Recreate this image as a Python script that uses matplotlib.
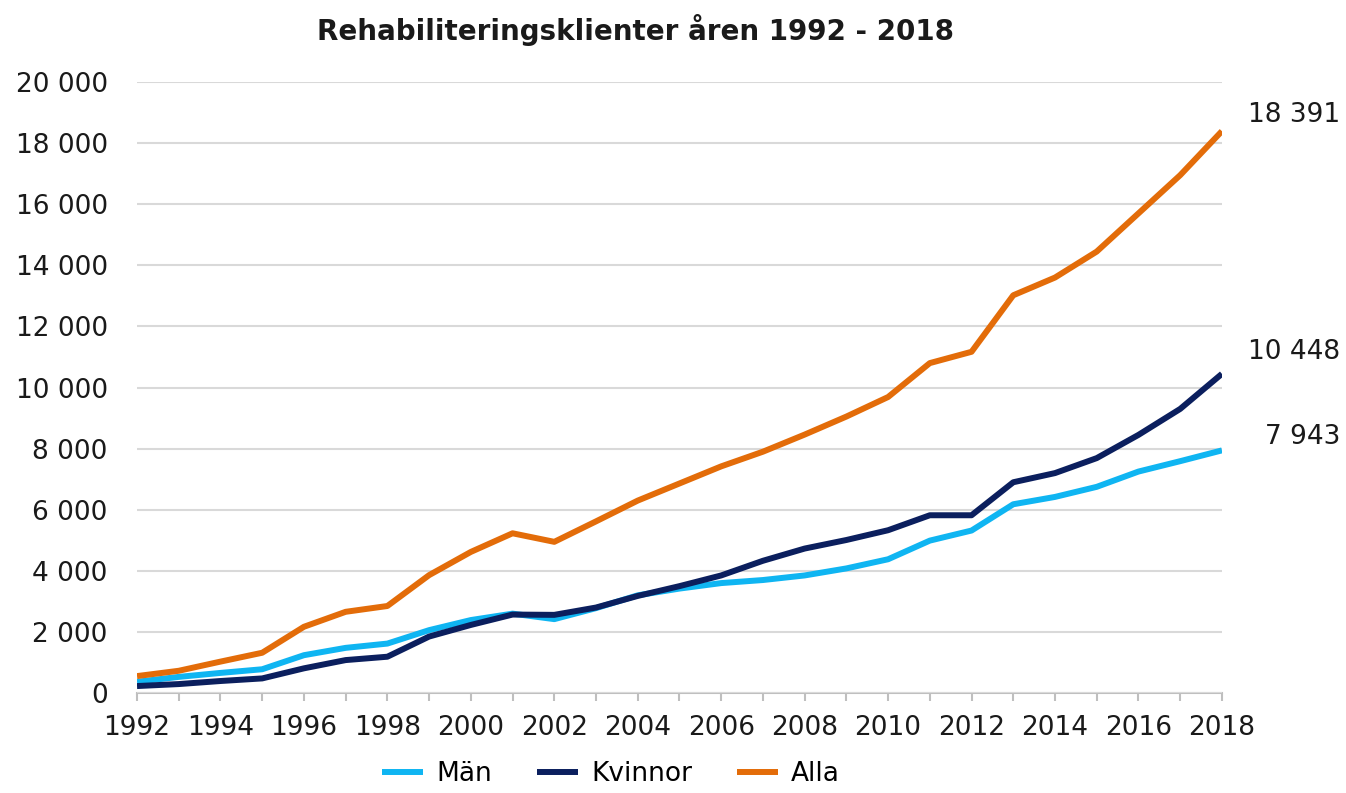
import matplotlib

matplotlib.use("Agg")
import matplotlib.pyplot as plt  # noqa: E402
from matplotlib.ticker import FuncFormatter, MultipleLocator  # noqa: E402
from matplotlib.transforms import blended_transform_factory  # noqa: E402

years = list(range(1992, 2019))

man = [370, 530, 660, 780, 1240, 1480, 1620, 2060, 2390, 2600,
       2420, 2780, 3200, 3420, 3600, 3700, 3850, 4080, 4380, 4990,
       5320, 6180, 6420, 6750, 7250, 7590, 7943]
kvinnor = [230, 295, 395, 480, 810, 1080, 1190, 1850, 2230, 2570,
           2560, 2800, 3180, 3500, 3850, 4330, 4730, 5010, 5330, 5820,
           5820, 6900, 7200, 7690, 8450, 9300, 10448]
alla = [556, 730, 1030, 1320, 2170, 2660, 2850, 3860, 4620, 5230,
        4950, 5620, 6300, 6860, 7420, 7900, 8460, 9050, 9690, 10800,
        11170, 13020, 13600, 14450, 15700, 16950, 18391]

series = [("Män", man, "#0fb5f2"),
          ("Kvinnor", kvinnor, "#0b1f5e"),
          ("Alla", alla, "#e36c09")]

FS = 19


def fmt(v):
    return f"{int(v):,}".replace(",", " ")


fig = plt.figure(figsize=(13.46, 7.93), dpi=100)
ax = fig.add_axes([0.1018, 0.126, 0.806, 0.7706])

for name, vals, col in series:
    ax.plot(years, vals, color=col, lw=4.3, label=name,
            solid_capstyle="butt", zorder=3)

# slutvärden till höger om diagrammet
tr = blended_transform_factory(ax.transAxes, ax.transData)
for vals, dy in ((alla, 530), (kvinnor, 710), (man, 440)):
    ax.text(1.1088, vals[-1] + dy, fmt(vals[-1]), transform=tr,
            fontsize=FS, ha="right", va="center", color="#1a1a1a",
            clip_on=False)

ax.set_xlim(1992, 2018)
ax.set_ylim(0, 20000)
ax.yaxis.set_major_locator(MultipleLocator(2000))
ax.yaxis.set_major_formatter(FuncFormatter(lambda v, _: fmt(v)))
ax.xaxis.set_major_locator(MultipleLocator(2))
ax.xaxis.set_minor_locator(MultipleLocator(1))

ax.grid(axis="y", color="#d9d9d9", lw=1.5, zorder=0)
for s in ("top", "right", "left"):
    ax.spines[s].set_visible(False)
ax.spines["bottom"].set_color("#bfbfbf")
ax.spines["bottom"].set_linewidth(1.5)
ax.spines["bottom"].set_zorder(1)

ax.tick_params(axis="y", length=0, pad=21, labelsize=FS, labelcolor="#1a1a1a")
ax.tick_params(axis="x", which="both", length=6, width=1.5, color="#bfbfbf",
               labelsize=FS, labelcolor="#1a1a1a", pad=10)

fig.text(0.4725, 0.962, "Rehabiliteringsklienter åren 1992 - 2018",
         fontsize=20, fontweight="bold", ha="center", va="center",
         color="#1a1a1a")

ax.legend(loc="upper center", bbox_to_anchor=(0.437, -0.072), ncol=3,
          frameon=False, fontsize=FS, handlelength=1.55, handletextpad=0.5,
          columnspacing=1.7)

fig.savefig("out.png", dpi=100, facecolor="white")
